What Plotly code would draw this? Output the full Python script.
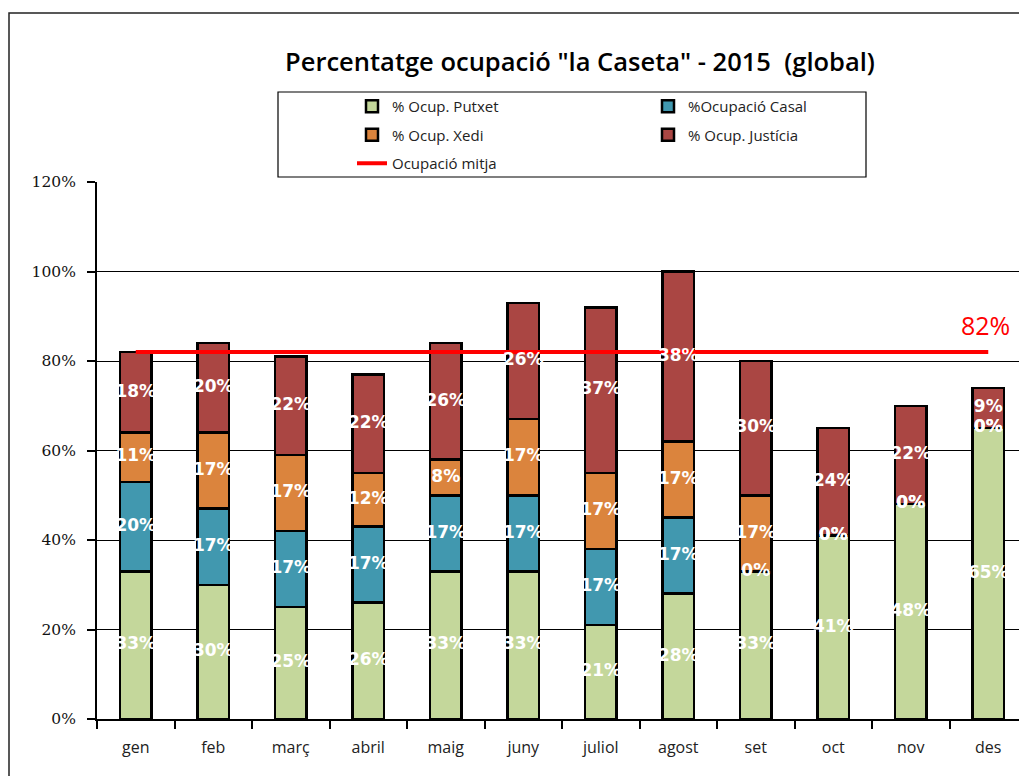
import numpy as np
import plotly.graph_objects as go

# Data
months = ['gen', 'feb', 'març', 'abril', 'maig', 'juny',
          'juliol', 'agost', 'set', 'oct', 'nov', 'des']
putxet = [33, 30, 25, 26, 33, 33, 21, 28, 33, 41, 48, 65]
casal = [20, 17, 17, 17, 17, 17, 17, 17, 0, 0, 0, 0]
xedi = [11, 17, 17, 12, 8, 17, 17, 17, 17, 0, 0, 0]
justicia = [18, 20, 22, 22, 26, 26, 37, 38, 30, 24, 22, 9]
mitja = 82
y_ticks = [0, 20, 40, 60, 80, 100, 120]
y_tick_text = [f'{v}%' for v in y_ticks]

series = [
    ('% Ocup. Putxet', putxet, '#c4d79b', 'legend'),
    ('%Ocupació Casal', casal, '#4198af', 'legend2'),
    ('% Ocup. Xedi', xedi, '#db843d', 'legend'),
    ('% Ocup. Justícia', justicia, '#aa4643', 'legend2'),
]

# the page body adds an 8px margin, so the figure starts at (8, 8) on screen
OFF = 8
W, H = 1027 - OFF, 776 - OFF
# plot area in screen pixels
SX0, SX1, SY0, SY1 = 97, 1027, 182, 719
L, T = SX0 - OFF, SY0 - OFF
R = W - (SX1 - OFF)
B = H - (SY1 - OFF)
PW, PH = SX1 - SX0, SY1 - SY0


def px_x(sx):
    return (sx - SX0) / PW


def px_y(sy):
    return (SY1 - sy) / PH


def cont_x(sx):
    return (sx - OFF) / W


def cont_y(sy):
    return 1 - (sy - OFF) / H


fig = go.Figure()

for name, vals, color, leg in series:
    fig.add_trace(go.Bar(
        x=months, y=vals, name=name,
        marker=dict(color=color, line=dict(color='black', width=2.5)),
        legend=leg, legendgroup=name,
        hovertemplate='%{x}: %{y}%<extra>' + name + '</extra>',
    ))

fig.add_trace(go.Scatter(
    x=months, y=[mitja] * len(months), mode='lines',
    name='Ocupació mitja', legend='legend', legendgroup='mitja',
    line=dict(color='#ff0000', width=4),
    hoverinfo='skip',
))

# value labels centred in each segment
stack = np.array([putxet, casal, xedi, justicia], dtype=float)
tops = np.cumsum(stack, axis=0)
mids = tops - stack / 2
lab_x, lab_y, lab_t = [], [], []
for s in range(stack.shape[0]):
    for m in range(len(months)):
        lab_x.append(months[m])
        lab_y.append(mids[s, m])
        lab_t.append(f'{int(stack[s, m])}%')

fig.add_trace(go.Scatter(
    x=lab_x, y=lab_y, mode='text', text=lab_t,
    textfont=dict(family='DejaVu Sans', size=17, color='white', weight='bold'),
    showlegend=False, hoverinfo='skip',
))

fig.add_annotation(
    x=months[-1], y=mitja, text=f'{mitja}%', showarrow=False,
    yanchor='bottom', yshift=8, xshift=-3,
    font=dict(family='Open Sans', size=25, color='#ff0000'),
)

# outer chart border and legend box
fig.add_shape(type='rect', xref='paper', yref='paper',
              x0=px_x(9), x1=px_x(1045), y0=px_y(795), y1=px_y(13),
              line=dict(color='#222222', width=1.5))
fig.add_shape(type='rect', xref='paper', yref='paper',
              x0=px_x(278), x1=px_x(866), y0=px_y(177), y1=px_y(92),
              line=dict(color='black', width=1.2))

legend_font = dict(family='Open Sans', size=15, color='#222222')

fig.update_layout(
    width=W, height=H,
    margin=dict(l=L, r=R, t=T, b=B, autoexpand=False),
    paper_bgcolor='white', plot_bgcolor='white',
    barmode='stack', bargap=0.59,
    title=dict(
        text='Percentatge ocupació "la Caseta" - 2015\u00a0\u00a0(global)',
        x=cont_x(580), xanchor='center', xref='container',
        y=cont_y(62), yanchor='middle', yref='container',
        font=dict(family='Open Sans', size=25.5, color='black', weight=600),
    ),
    xaxis=dict(
        type='category', range=[-0.5, len(months) - 0.5],
        tickson='boundaries', ticks='outside', ticklen=8,
        tickcolor='black', tickwidth=1.5, showline=True, linecolor='black',
        linewidth=2, showgrid=False, tickangle=0, ticklabelstandoff=13,
        tickfont=dict(family='Open Sans', size=16, color='#222222'),
    ),
    yaxis=dict(
        range=[0, 120], tickvals=y_ticks, ticktext=y_tick_text,
        ticks='outside', ticklen=8, tickcolor='black', tickwidth=1.5,
        showline=True, linecolor='black', linewidth=2,
        showgrid=True, gridcolor='black', gridwidth=1, zeroline=False,
        ticklabelstandoff=8,
        tickfont=dict(family='DejaVu Serif', size=15.5, color='#111111'),
    ),
    legend=dict(
        xref='container', yref='container', x=cont_x(352), y=cont_y(90),
        xanchor='left', yanchor='top', orientation='v',
        traceorder='grouped', tracegroupgap=6, bgcolor='rgba(0,0,0,0)',
        font=legend_font,
    ),
    legend2=dict(
        xref='container', yref='container', x=cont_x(648), y=cont_y(90),
        xanchor='left', yanchor='top', orientation='v',
        traceorder='grouped', tracegroupgap=6, bgcolor='rgba(0,0,0,0)',
        font=legend_font,
    ),
)

fig.write_html('out.html')
